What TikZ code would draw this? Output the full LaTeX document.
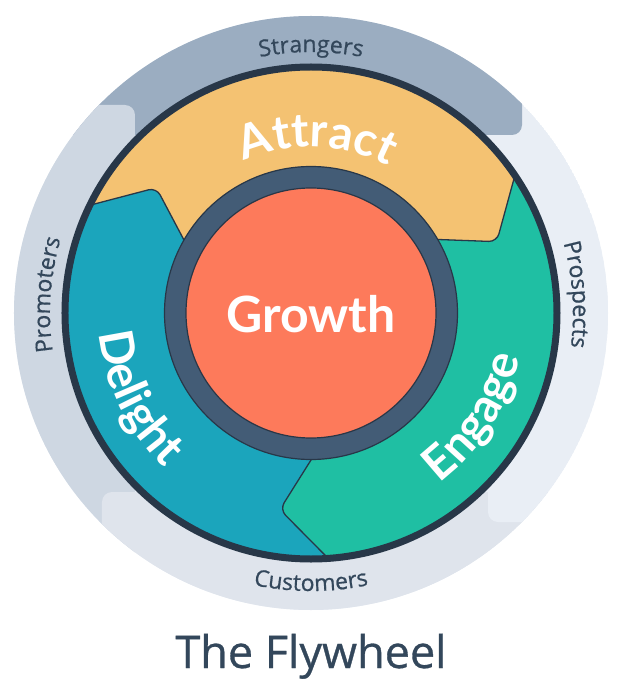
\documentclass[tikz,border=0pt]{standalone}
\usepackage{fontspec}
\setmainfont{Lato}
\newfontfamily\ringfont{Open Sans}[FakeBold=0.7]
\usetikzlibrary{calc,decorations.text}
\definecolor{hubdark}{HTML}{283748}
\definecolor{hubtext}{HTML}{33475B}
\definecolor{slate}{HTML}{435C76}
\definecolor{growth}{HTML}{FD7A5B}
\definecolor{attract}{HTML}{F4C272}
\definecolor{delight}{HTML}{1BA5BC}
\definecolor{engage}{HTML}{1FBFA3}
\definecolor{strangers}{HTML}{9BADC1}
\definecolor{prospects}{HTML}{E9EEF5}
\definecolor{customers}{HTML}{DFE4EC}
\definecolor{promoters}{HTML}{CED7E2}
\newcommand\segfont{\fontsize{47}{47}\selectfont\bfseries\color{white}}
\newcommand\bandfont{\ringfont\fontsize{23}{23}\selectfont\color{hubtext}}
\tikzset{
  band/.style={fill=#1, rounded corners=10pt},
  seg/.style={fill=#1, rounded corners=8pt},
  segline/.style={draw=hubdark, line width=1.3pt, rounded corners=8pt},
  arclabel/.style={decorate, decoration={text along path, text align=center, text={#1}}}
}

\begin{document}
\begin{tikzpicture}[x=1pt,y=1pt]
  \useasboundingbox (-311,-375) rectangle (329,313);
  \begin{scope}
    \clip (0,0) circle[radius=297];
    \fill[prospects] (0,0) circle[radius=297];
    \path[band=strangers] (-330,178) rectangle (211,330);
    \path[band=promoters] (-330,-330) rectangle (-176,208);
    \path[band=customers] (-209,-330) rectangle (330,-179);
    \path[band=prospects] (177,-209) rectangle (330,100);
  \end{scope}
  \foreach \a/\n in {0/ae,120/da,240/ed}{
    \coordinate (\n-o) at (\a+33.4:243);
    \coordinate (\n-p) at (\a+21:199);
    \coordinate (\n-i) at (\a+30:147);
    \coordinate (\n-oo) at ($(\n-p)!1.35!(\n-o)$);
    \coordinate (\n-ii) at ($(\n-p)!1.5!(\n-i)$);
  }
  \begin{scope}
    \clip (0,0) circle[radius=246];
    \path[seg=attract] (ae-oo) -- (ae-p) -- (ae-ii) -- (0,0) -- (da-ii) -- (da-p) -- (da-oo)
      -- (135:330) -- (105:330) -- (75:330) -- (45:330) -- cycle;
    \path[seg=delight] (da-oo) -- (da-p) -- (da-ii) -- (0,0) -- (ed-ii) -- (ed-p) -- (ed-oo)
      -- (255:330) -- (225:330) -- (195:330) -- (165:330) -- cycle;
    \path[seg=engage] (ed-oo) -- (ed-p) -- (ed-ii) -- (0,0) -- (ae-ii) -- (ae-p) -- (ae-oo)
      -- (15:330) -- (-15:330) -- (-45:330) -- (-75:330) -- cycle;
    \foreach \n in {ae,da,ed} \path[segline] (\n-oo) -- (\n-p) -- (\n-ii);
  \end{scope}
  \draw[hubdark, line width=1.2pt, fill=slate] (0,0) circle[radius=146.5];
  \draw[hubdark, line width=1.2pt, fill=growth] (0,0) circle[radius=125];
  \draw[hubdark, line width=7pt] (0,0) circle[radius=246];
  \path[arclabel={|\segfont|Attract}] (148:166) arc[start angle=148, end angle=28, radius=166];
  \path[arclabel={|\segfont|Delight}] (150:213) arc[start angle=150, end angle=262, radius=213];
  \path[arclabel={|\segfont|Engage}] (-90:213) arc[start angle=-90, end angle=25, radius=213];
  \path[arclabel={|\bandfont|Strangers}] (130:261) arc[start angle=130, end angle=50, radius=261];
  \path[arclabel={|\bandfont|Prospects}] (44:262) arc[start angle=44, end angle=-36, radius=262];
  \path[arclabel={|\bandfont|Customers}] (230:278) arc[start angle=230, end angle=310, radius=278];
  \path[arclabel={|\bandfont|Promoters}] (216:261) arc[start angle=216, end angle=136, radius=261];
  \node[text=white, font=\fontsize{50}{50}\selectfont\bfseries, anchor=base] (growth) at (0,-19) {Growth};
  \node[text=hubtext, font=\ringfont\fontsize{45}{45}\selectfont, anchor=base] (title) at (0,-355) {The Flywheel};
\end{tikzpicture}
\end{document}
